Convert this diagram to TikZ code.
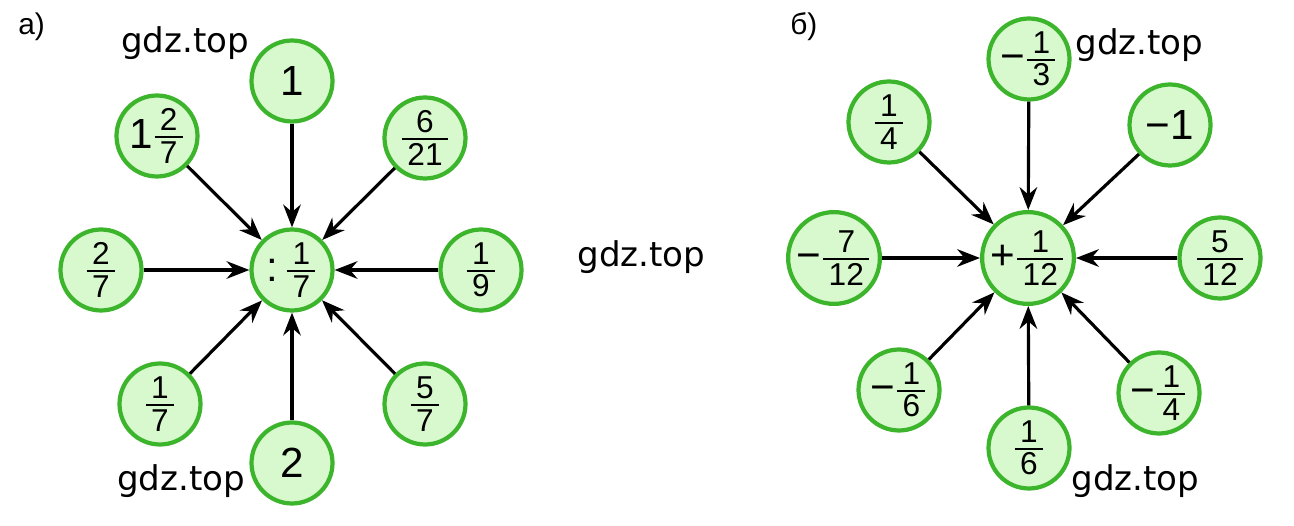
\documentclass[tikz,border=0pt]{standalone}
\usepackage{amsmath}
\usepackage{fontspec}
\setmainfont{Liberation Sans}
\newfontfamily\gdzfont{DejaVu Sans}
\usepackage{tikz}
\usetikzlibrary{arrows.meta}
\definecolor{leaf}{HTML}{3CB52C}
\definecolor{leafbg}{HTML}{D8F9CD}
\newcommand{\numf}{\fontsize{18}{20}\selectfont}
\newcommand{\fr}[2]{$\tfrac{\hbox{\numf #1}}{\hbox{\numf\hspace{3pt}#2\hspace{3pt}}}$}
\tikzset{ball/.style={circle,draw=leaf,line width=2.4pt,fill=leafbg,minimum size=1.62cm,inner sep=0pt,font=\fontsize{24}{26}\selectfont},
  arr/.style={line width=1.8pt,-{Stealth[length=13pt,width=10pt]}},
  wmark/.style={font=\gdzfont\fontsize{19.4}{22}\selectfont,anchor=base west,inner sep=0pt},
  tag/.style={font=\fontsize{17}{19}\selectfont,anchor=base west,inner sep=0pt}}

\begin{document}
\begin{tikzpicture}[x=0.02cm,y=-0.02cm]
\useasboundingbox (0,0) rectangle (1294,526);
% a)
\node[ball] (a0) at (292,270) {:\,\fr{1}{7}};
\node[ball] (a1) at (292,81) {1}; \node[ball] (a2) at (425,138) {\fr{6}{21}};
\node[ball] (a3) at (481,270) {\fr{1}{9}}; \node[ball] (a4) at (425,404) {\fr{5}{7}};
\node[ball] (a5) at (292,463) {2}; \node[ball] (a6) at (160,404) {\fr{1}{7}};
\node[ball] (a7) at (101,270) {\fr{2}{7}}; \node[ball] (a8) at (157,136) {1\fr{2}{7}};
\foreach \i in {1,...,8} \draw[arr] (a\i) -- (a0);
% б)
\node[ball] (b0) at (1028,258) {+\fr{1}{12}};
\node[ball] (b1) at (1029,59) {−\fr{1}{3}}; \node[ball] (b2) at (1170,125) {−1};
\node[ball] (b3) at (1220,258) {\fr{5}{12}}; \node[ball] (b4) at (1159,393) {−\fr{1}{4}};
\node[ball] (b5) at (1029,448) {\fr{1}{6}}; \node[ball] (b6) at (899,390) {−\fr{1}{6}};
\node[ball] (b7) at (834,258) {−\fr{7}{12}}; \node[ball] (b8) at (889,122) {\fr{1}{4}};
\foreach \i in {1,...,8} \draw[arr] (b\i) -- (b0);
% labels
\node[tag] (la) at (18,35) {а)}; \node[tag] (lb) at (790,35) {б)};
\node[wmark] (w1) at (121,53) {gdz.top}; \node[wmark] (w2) at (117,490) {gdz.top};
\node[wmark] (w3) at (577,267) {gdz.top}; \node[wmark] (w4) at (1075,55) {gdz.top};
\node[wmark] (w5) at (1071,490) {gdz.top};
\end{tikzpicture}
\end{document}
